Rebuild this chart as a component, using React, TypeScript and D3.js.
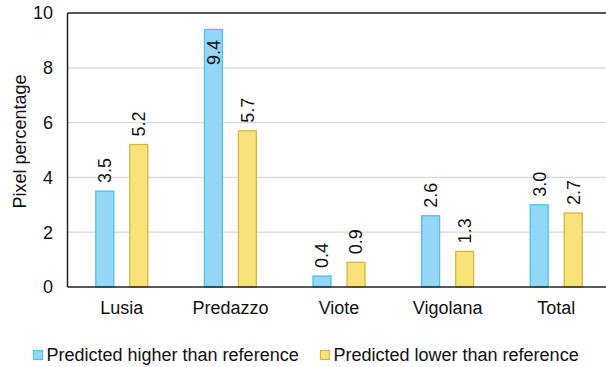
import React from "react";
import * as d3 from "d3";

const categories = ["Lusia", "Predazzo", "Viote", "Vigolana", "Total"];
const higherValues = [3.5, 9.4, 0.4, 2.6, 3.0];
const lowerValues = [5.2, 5.7, 0.9, 1.3, 2.7];
const seriesNames = ["Predicted higher than reference", "Predicted lower than reference"];
const yTicks = [0, 2, 4, 6, 8, 10];

const W = 606;
const H = 367;
const left = 67.5;
const right = 610.5;
const top = 13;
const bottom = 287;

const FONT = "'Liberation Sans', Arial, sans-serif";
const fills = ["#94d6f6", "#f8e27a"];
const strokes = ["#4ec3ef", "#d8b642"];

export default function App() {
  const x = d3.scaleBand<string>().domain(categories).range([left, right]);
  const y = d3.scaleLinear().domain([0, 10]).range([bottom, top]);
  const barW = 18;
  const offset = 17;
  const series = [higherValues, lowerValues];

  return (
    <svg width={W} height={H} style={{ position: "absolute", left: 0, top: 0, background: "#fff" }} fontFamily={FONT}>
      {yTicks.filter((t) => t > 0 && t < 10).map((t) => (
        <line key={t} x1={left} x2={right} y1={y(t)} y2={y(t)} stroke="#d9d9d9" strokeWidth={1.2} />
      ))}
      {yTicks.map((t) => (
        <text key={t} x={53} y={y(t)} dy="0.36em" textAnchor="end" fontSize={18} fill="#111">
          {t}
        </text>
      ))}
      {series.map((vals, si) =>
        vals.map((v, i) => {
          const cx = (x(categories[i]) as number) + x.bandwidth() / 2 + (si === 0 ? -offset : offset);
          const yt = y(v);
          const labelStart = Math.max(yt - 8, top + 52);
          return (
            <g key={`${si}-${i}`}>
              <rect x={cx - barW / 2} y={yt} width={barW} height={bottom - yt} fill={fills[si]} stroke={strokes[si]} strokeWidth={1.3} />
              <text
                transform={`translate(${cx},${labelStart}) rotate(-90)`}
                dy="0.36em"
                fontSize={18}
                fill="#111"
              >
                {v.toFixed(1)}
              </text>
            </g>
          );
        })
      )}
      <line x1={left} x2={right} y1={top} y2={top} stroke="#222" strokeWidth={1.5} />
      <line x1={left} x2={left} y1={top} y2={bottom} stroke="#222" strokeWidth={1.5} />
      <line x1={left} x2={right} y1={bottom} y2={bottom} stroke="#222" strokeWidth={1.5} />
      {categories.map((c) => (
        <text key={c} x={(x(c) as number) + x.bandwidth() / 2} y={314} textAnchor="middle" fontSize={18} fill="#111">
          {c}
        </text>
      ))}
      <text transform={`translate(26,141.5) rotate(-90)`} textAnchor="middle" fontSize={18} fill="#111">
        Pixel percentage
      </text>
      {seriesNames.map((n, i) => {
        const lx = i === 0 ? 33.5 : 320.5;
        return (
          <g key={n}>
            <rect x={lx} y={350.5} width={9} height={9} fill={fills[i]} stroke={strokes[i]} strokeWidth={1.2} />
            <text x={lx + 13} y={361} fontSize={18} fill="#111">
              {n}
            </text>
          </g>
        );
      })}
    </svg>
  );
}
